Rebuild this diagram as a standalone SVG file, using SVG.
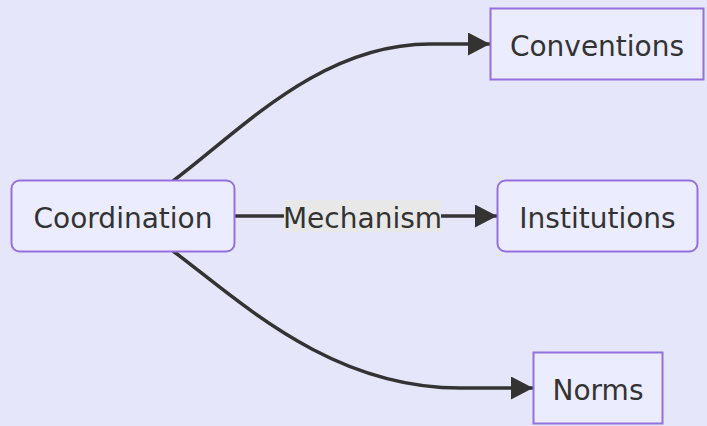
<svg xmlns="http://www.w3.org/2000/svg" width="707" height="426" viewBox="0 0 707 426">
<defs>
<style>
.node rect{fill:#ECECFF;stroke:#9370DB;stroke-width:2}
.node text,.lbl text{font-family:"DejaVu Sans",sans-serif;font-size:28px;fill:#333;text-anchor:middle;dominant-baseline:central}
.edge{fill:none;stroke:#333;stroke-width:3.5}
</style>
<marker id="arr" viewBox="0 0 22 23" refX="22" refY="11.5" markerWidth="22" markerHeight="23" markerUnits="userSpaceOnUse" orient="auto">
<path d="M0,0 L22,11.5 L0,23 Z" fill="#333"/>
</marker>
</defs>
<rect width="707" height="426" fill="#E6E6FA"/>
<g id="edges">
<path class="edge" d="M173,181 C240,131 320,44 430,44 L490,44" marker-end="url(#arr)"/>
<path class="edge" d="M235,216 L497,216" marker-end="url(#arr)"/>
<path class="edge" d="M173,251 C240,301 330,388 460,388 L533,388" marker-end="url(#arr)"/>
</g>
<g id="edge-label" class="lbl">
<rect x="284" y="200" width="157" height="32" fill="#E8E8E8"/>
<text x="362.5" y="218">Mechanism</text>
</g>
<g id="coordination" class="node">
<rect x="11.5" y="180.5" width="223" height="71" rx="8"/>
<text x="123" y="218">Coordination</text>
</g>
<g id="conventions" class="node">
<rect x="490.5" y="8.5" width="213" height="71"/>
<text x="597" y="46">Conventions</text>
</g>
<g id="institutions" class="node">
<rect x="497.5" y="180.5" width="200" height="71" rx="8"/>
<text x="597.5" y="218">Institutions</text>
</g>
<g id="norms" class="node">
<rect x="533.5" y="352.5" width="129" height="71"/>
<text x="598" y="390">Norms</text>
</g>
</svg>
